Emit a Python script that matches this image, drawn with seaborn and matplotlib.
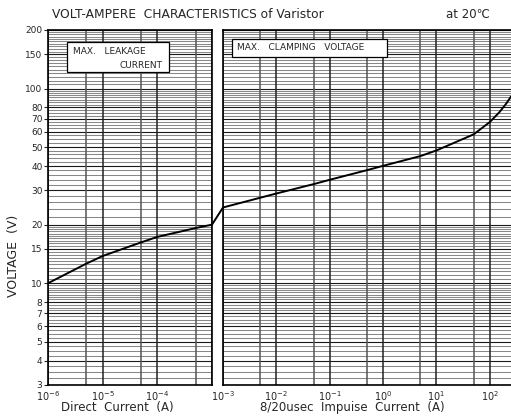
import matplotlib
matplotlib.use("Agg")
import matplotlib.pyplot as plt
from matplotlib.patches import Rectangle, ConnectionPatch
import seaborn as sns

# ---------------- data ----------------
left_current = [1e-6, 5e-6, 1e-5, 5e-5, 1e-4, 5e-4, 1e-3]
left_voltage = [10.0, 12.6, 13.8, 16.2, 17.3, 19.2, 20.0]

right_current = [1e-3, 5e-3, 1e-2, 5e-2, 1e-1, 5e-1, 1, 5, 10, 50, 100, 150, 200, 250]
right_voltage = [24.5, 27.5, 28.9, 32.3, 34.0, 38.1, 40.1, 45.0, 48.1, 58.2, 67.3, 75.4, 83.2, 91.0]

y_ticks = [3, 4, 5, 6, 7, 8, 10, 15, 20, 30, 40, 50, 60, 70, 80, 100, 150, 200]
y_tick_labels = [str(v) for v in y_ticks]

left_xticks = [1e-6, 1e-5, 1e-4, 1e-3]
left_xlabels = [r"$10^{-6}$", r"$10^{-5}$", r"$10^{-4}$", ""]
right_xticks = [1e-3, 1e-2, 1e-1, 1, 10, 100]
right_xlabels = [r"$10^{-3}$", r"$10^{-2}$", r"$10^{-1}$", r"$10^{0}$", r"$10^{1}$", r"$10^{2}$"]
left_minor_x = [5e-6, 5e-5, 5e-4]
right_minor_x = [5e-3, 5e-2, 5e-1, 5, 50]

# horizontal grid values (minor, grey)
grid_minor_y = ([round(3 + 0.25 * i, 2) for i in range(28)] +
                [round(10 + 0.5 * i, 1) for i in range(21)] +
                [20 + 2 * i for i in range(16)] +
                [50 + 2.5 * i for i in range(21)] +
                [100 + 5 * i for i in range(21)])
grid_minor_y = sorted(set(v for v in grid_minor_y if v not in y_ticks and 3 <= v <= 200))

title_text = "VOLT-AMPERE  CHARACTERISTICS of Varistor"
temp_text = "at 20\u2103"
ylabel_text = "VOLTAGE  (V)"
xlabel_left = "Direct  Current  (A)"
xlabel_right = "8/20usec  Impuise  Current  (A)"
box1_line1 = "MAX.   LEAKAGE"
box1_line2 = "CURRENT"
box2_text = "MAX.   CLAMPING   VOLTAGE"

# ---------------- style ----------------
sns.set_style("white")
plt.rcParams['font.family'] = ['DejaVu Sans', 'Noto Sans CJK SC']
plt.rcParams['mathtext.fontset'] = 'dejavusans'

W, H = 511, 417
fig = plt.figure(figsize=(W / 100, H / 100), dpi=100)

def fx(x):
    return x / W

def fy(y):
    return 1 - y / H

ax1 = fig.add_axes([fx(48), 32 / H, 164 / W, 355 / H])
ax2 = fig.add_axes([fx(223), 32 / H, 288 / W, 355 / H])

for ax, cur, vol, xt, xl, mx, xlim in [
        (ax1, left_current, left_voltage, left_xticks, left_xlabels, left_minor_x, (1e-6, 1e-3)),
        (ax2, right_current, right_voltage, right_xticks, right_xlabels, right_minor_x, (1e-3, 250))]:
    ax.set_xscale('log')
    ax.set_yscale('log')
    ax.set_xlim(*xlim)
    ax.set_ylim(3, 200)
    ax.hlines(grid_minor_y, 0, 1, transform=ax.get_yaxis_transform(),
              colors='#888888', lw=0.75, zorder=1)
    ax.hlines(y_ticks, 0, 1, transform=ax.get_yaxis_transform(),
              colors='#1a1a1a', lw=0.8, zorder=1.1)
    ax.vlines(mx, 0, 1, transform=ax.get_xaxis_transform(), colors='#555555', lw=1.1, zorder=1.2)
    ax.vlines(xt, 0, 1, transform=ax.get_xaxis_transform(), colors='#222222', lw=1.1, zorder=1.2)
    sns.lineplot(x=cur, y=vol, ax=ax, color='black', lw=1.4, zorder=3, sort=False)
    ax.set_xticks(xt)
    ax.set_xticklabels(xl)
    ax.set_xticks([], minor=True)
    ax.tick_params(axis='x', length=0, pad=3, labelsize=7)
    ax.set_xlabel("")
    ax.set_ylabel("")
    for s in ax.spines.values():
        s.set_color('black')
        s.set_linewidth(1.2)

ax1.set_yticks(y_ticks)
ax1.set_yticklabels(y_tick_labels)
ax1.set_yticks([], minor=True)
ax1.tick_params(axis='y', length=3, width=0.8, pad=1, labelsize=6.5, left=True)

ax2.set_yticks(y_ticks)
ax2.set_yticklabels([])
ax2.set_yticks([], minor=True)
ax2.tick_params(axis='y', length=0)
ax2.spines['right'].set_visible(False)

con = ConnectionPatch(xyA=(left_current[-1], left_voltage[-1]), coordsA=ax1.transData,
                      xyB=(right_current[0], right_voltage[0]), coordsB=ax2.transData,
                      color='black', lw=1.4, zorder=5)
fig.add_artist(con)

fig.text(fx(52), fy(15), title_text, fontsize=8.8, ha='left', va='center')
fig.text(fx(490), fy(15), temp_text, fontsize=8.5, ha='right', va='center')
fig.text(fx(14), fy(256), ylabel_text, fontsize=9, rotation=90, ha='center', va='center')
fig.text(fx(117), fy(408), xlabel_left, fontsize=8.5, ha='center', va='center')
fig.text(fx(352), fy(408), xlabel_right, fontsize=8.5, ha='center', va='center')

fig.add_artist(Rectangle((fx(67), fy(72)), (169 - 67) / W, (72 - 42) / H,
                         transform=fig.transFigure, facecolor='white',
                         edgecolor='black', lw=0.9, zorder=10))
fig.text(fx(73), fy(52), box1_line1, fontsize=6.5, ha='left', va='center', zorder=11)
fig.text(fx(162), fy(65), box1_line2, fontsize=6.5, ha='right', va='center', zorder=11)

fig.add_artist(Rectangle((fx(232), fy(57)), (387 - 232) / W, (57 - 39) / H,
                         transform=fig.transFigure, facecolor='white',
                         edgecolor='black', lw=0.9, zorder=10))
fig.text(fx(237), fy(48), box2_text, fontsize=6.5, ha='left', va='center', zorder=11)

fig.savefig("out.png", dpi=100)
